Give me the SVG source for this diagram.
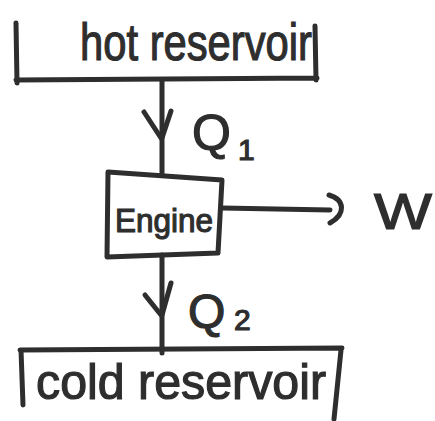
<svg xmlns="http://www.w3.org/2000/svg" width="435" height="421" viewBox="0 0 435 421">
<style>
.ln{fill:none;stroke:#2e2e2e;stroke-width:5;stroke-linecap:round;stroke-linejoin:round}
.t{fill:#2e2e2e;stroke:#2e2e2e;stroke-width:1.2;font-family:"Liberation Sans","DejaVu Sans",sans-serif}
</style>
<rect width="435" height="421" fill="#ffffff"/>
<g id="hot-reservoir">
<path class="ln" d="M16,23 L17,83 M16,80 L317,78 M315,26 L316,80"/>
<text class="t" x="80" y="60" font-size="52" textLength="232" lengthAdjust="spacingAndGlyphs">hot reservoir</text>
</g>
<g id="engine">
<path class="ln" d="M108,172 L222,180 L218,253 L107,257 Z"/>
<text class="t" x="115" y="232" font-size="34" textLength="98" lengthAdjust="spacingAndGlyphs">Engine</text>
</g>
<g id="cold-reservoir">
<path class="ln" d="M20,350 L342,348 M21,350 L23,405 M341,350 L334,419"/>
<text class="t" x="36" y="399" font-size="50" textLength="290" lengthAdjust="spacingAndGlyphs">cold reservoir</text>
</g>
<g id="work">
<text class="t" x="374" y="229" font-size="50" stroke-width="2.5" textLength="58" lengthAdjust="spacingAndGlyphs">W</text>
</g>
<g id="connectors">
<path class="ln" d="M162,80 L162,175"/>
<path class="ln" d="M144,112 L161,138 M171,111 L162,138"/>
<path class="ln" d="M162,255 L162,353"/>
<path class="ln" d="M145,295 L161,315 M171,283 L162,315"/>
<path class="ln" d="M222,208 L330,210"/>
<path class="ln" d="M329,195 C345,200 346,214 330,223"/>
<text class="t" x="192" y="150" font-size="50">Q</text>
<text class="t" x="238" y="160" font-size="30">1</text>
<text class="t" x="188" y="328" font-size="48">Q</text>
<text class="t" x="234" y="330" font-size="30">2</text>
</g>
</svg>
